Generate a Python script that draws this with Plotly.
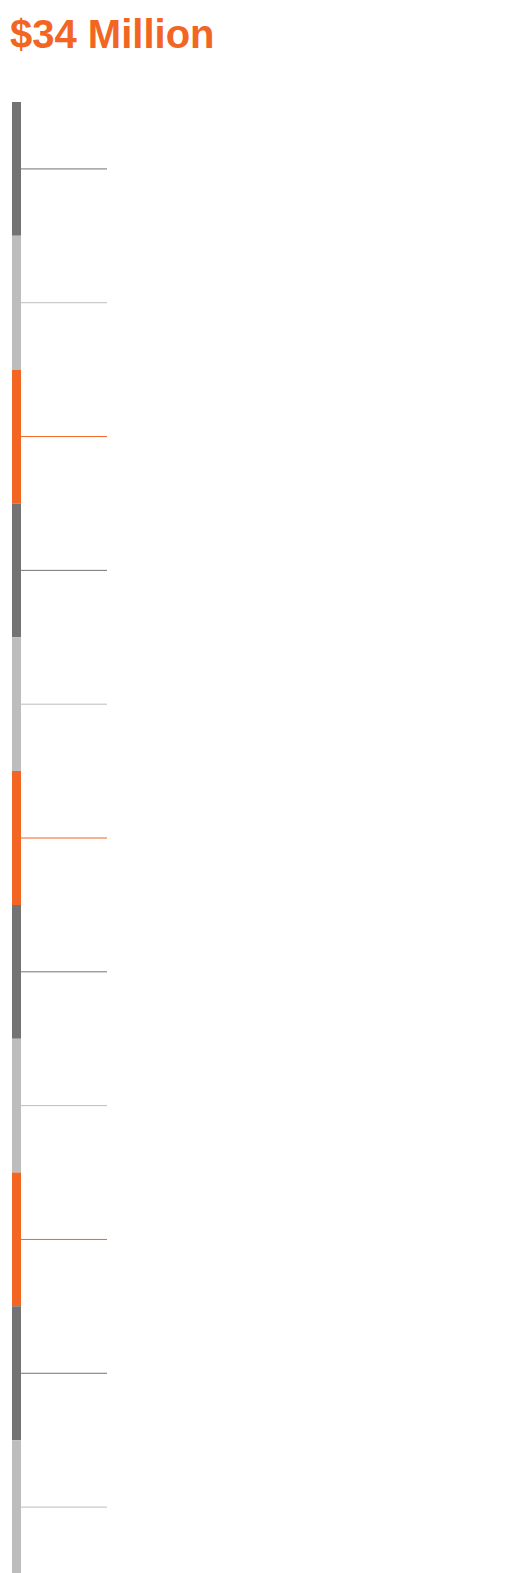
import plotly.graph_objects as go

segment_values = [1, 1, 1, 1, 1, 1, 1, 1, 1, 1, 1]
segment_colors = ["#737373", "#bdbdbd", "#f26522"] * 4
title_text = "$34 Million"

fig = go.Figure()
cum = 0
for i, v in enumerate(segment_values):
    c = segment_colors[i]
    fig.add_trace(go.Bar(x=[4.5], y=[v], base=[cum], width=[9], marker=dict(color=c, line=dict(width=0)),
                         showlegend=False, hoverinfo="skip"))
    mid = cum + v / 2
    fig.add_trace(go.Scatter(x=[9, 95], y=[mid, mid], mode="lines", line=dict(color=c, width=1),
                             showlegend=False, hoverinfo="skip"))
    cum += v

fig.update_layout(
    width=531, height=1573, margin=dict(l=4, r=0, t=94, b=7),
    paper_bgcolor="white", plot_bgcolor="white", barmode="overlay",
    xaxis=dict(range=[0, 527], visible=False, fixedrange=True),
    yaxis=dict(range=[sum(segment_values), 0], visible=False, fixedrange=True),
    annotations=[dict(text=f"<b>{title_text}</b>", x=0, y=1573 - 26, xref="paper", yref="paper",
                      xanchor="left", yanchor="middle", showarrow=False,
                      font=dict(family="Liberation Sans, Arial", size=40, color="#f26522"))],
)
fig.update_layout(annotations=[dict(text=f"<b>{title_text}</b>", x=-4, y=26, xref="paper", yref="paper",
                                    xanchor="left", yanchor="middle", showarrow=False,
                                    font=dict(family="Liberation Sans, Arial", size=40, color="#f26522"))])
# position title in pixel terms: convert to paper coordinates
plot_h = 1573 - 94 - 7
fig.layout.annotations[0].y = 1 + (94 - 26) / plot_h
fig.layout.annotations[0].x = -4 / 527
fig.write_html("out.html")
